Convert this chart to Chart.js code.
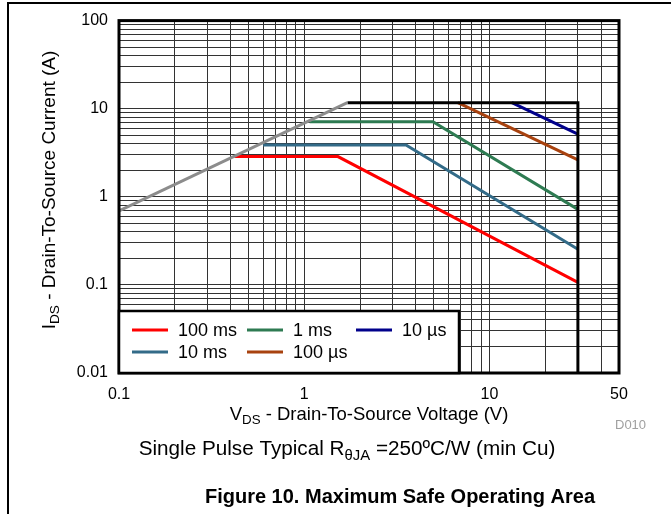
<!DOCTYPE html>
<html>
<head>
<meta charset="utf-8">
<script src="https://cdn.jsdelivr.net/npm/chart.js@4/dist/chart.umd.min.js"></script>
<style>
html, body { margin: 0; padding: 0; background: #fff; }
canvas { display: block; }
</style>
</head>
<body>
<canvas id="ch" width="671" height="514"></canvas>
<script>
// legend order (row by row)
const seriesLabels = ['100 ms', '1 ms', '10 µs', '10 ms', '100 µs'];
const seriesColors = ['#ff0000', '#2e7b52', '#00008b', '#336b88', '#a8420f'];

// V_DS (V) and I_DS (A) for each pulse width
const v100ms = [0.42, 1.52, 30];
const i100ms = [2.86, 2.86, 0.107];
const v1ms = [1.07, 4.95, 30];
const i1ms = [7.1, 7.1, 0.72];
const v10us = [13.2, 30];
const i10us = [11.7, 5.15];
const v10ms = [0.6, 3.54, 30];
const i10ms = [3.87, 3.87, 0.254];
const v100us = [6.75, 30];
const i100us = [11.7, 2.62];

// RDS(on) limit and outer envelope
const vLimit = [0.1, 1.71];
const iLimit = [0.69, 11.7];
const vEnvelope = [1.71, 30, 30];
const iEnvelope = [11.7, 11.7, 0.01];

const xTickLabels = ['0.1', '1', '10', '50'];
const yTickLabels = ['0.01', '0.1', '1', '10', '100'];

const seriesV = [v100ms, v1ms, v10us, v10ms, v100us];
const seriesI = [i100ms, i1ms, i10us, i10ms, i100us];

const FONT = '"Liberation Sans", Arial, sans-serif';
Chart.defaults.font.family = FONT;
Chart.defaults.font.size = 16;
Chart.defaults.color = '#000';

let pts = (xs, ys) => xs.map((x, k) => ({ x: x, y: ys[k] }));

// grid lines at 1..9 of every decade
let logTicks = (min, max) => {
    let out = [];
    for (let d = min; d < max * 1.0001; d = Number((d * 10).toPrecision(6))) {
        for (let m = 1; m < 10; m++) {
            let v = Number((m * d).toPrecision(6));
            if (v <= max * 1.0001) out.push(v);
        }
    }
    return out;
};

let labelFor = (list) => (value) => {
    let hit = list.find((l) => Math.abs(Number(l) - value) < Number(l) * 1e-6);
    return hit === undefined ? '' : hit;
};

let drawParts = (ctx, parts, cx, baseY, size, weight) => {
    let w = 0;
    parts.forEach((p) => {
        ctx.font = (weight || '') + ' ' + (p.sub ? size * 0.72 : size) + 'px ' + FONT;
        w += ctx.measureText(p.t).width;
    });
    let x = cx - w / 2;
    ctx.textAlign = 'left';
    ctx.textBaseline = 'alphabetic';
    parts.forEach((p) => {
        ctx.font = (weight || '') + ' ' + (p.sub ? size * 0.72 : size) + 'px ' + FONT;
        ctx.fillText(p.t, x, p.sub ? baseY + size * 0.22 : baseY);
        x += ctx.measureText(p.t).width;
    });
};

let datasets = [
    { label: '', data: pts(vLimit, iLimit), borderColor: '#8c8c8c' },
    { label: '', data: pts(vEnvelope, iEnvelope), borderColor: '#000000' }
];
seriesLabels.forEach((lab, k) => {
    datasets.push({ label: lab, data: pts(seriesV[k], seriesI[k]), borderColor: seriesColors[k] });
});
datasets.forEach((d) => {
    d.showLine = true;
    d.borderWidth = 3;
    d.pointRadius = 0;
    d.fill = false;
});

let decor = {
    id: 'decor',
    afterDatasetsDraw: (chart) => {
        let ctx = chart.ctx;
        let ca = chart.chartArea;
        ctx.save();

        // plot frame
        ctx.strokeStyle = '#000';
        ctx.lineWidth = 3;
        ctx.strokeRect(ca.left, ca.top, ca.right - ca.left, ca.bottom - ca.top);

        // legend box
        let bx = ca.left, bw = 340, bh = 62, by = ca.bottom - bh;
        ctx.fillStyle = '#fff';
        ctx.fillRect(bx, by, bw, bh);
        ctx.lineWidth = 2.5;
        ctx.strokeRect(bx, by, bw, bh);
        let colX = [13, 128, 237];
        let rowY = [19, 41];
        ctx.font = '18px ' + FONT;
        ctx.textBaseline = 'middle';
        ctx.textAlign = 'left';
        seriesLabels.forEach((lab, k) => {
            let x = bx + colX[k % 3];
            let y = by + rowY[Math.floor(k / 3)];
            ctx.strokeStyle = seriesColors[k];
            ctx.lineWidth = 3;
            ctx.beginPath();
            ctx.moveTo(x, y);
            ctx.lineTo(x + 36, y);
            ctx.stroke();
            ctx.fillStyle = '#000';
            ctx.fillText(lab, x + 46, y + 1);
        });

        // axis titles
        ctx.fillStyle = '#000';
        drawParts(ctx, [{ t: 'V' }, { t: 'DS', sub: true }, { t: ' - Drain-To-Source Voltage (V)' }], 369, 420, 18.5);
        ctx.save();
        ctx.translate(48, 190);
        ctx.rotate(-Math.PI / 2);
        drawParts(ctx, [{ t: 'I' }, { t: 'DS', sub: true }, { t: ' - Drain-To-Source Current (A)' }], 0, 6.8, 19);
        ctx.restore();

        // captions
        drawParts(ctx, [{ t: 'Single Pulse Typical R' }, { t: 'θJA', sub: true }, { t: ' =250ºC/W (min Cu)' }], 347, 455, 20.7);
        drawParts(ctx, [{ t: 'Figure 10. Maximum Safe Operating Area' }], 400, 503, 20, 'bold');
        ctx.fillStyle = '#a0a0a0';
        ctx.font = '13px ' + FONT;
        ctx.textAlign = 'left';
        ctx.fillText('D010', 615, 429);

        // page border
        ctx.strokeStyle = '#000';
        ctx.lineWidth = 2;
        ctx.beginPath();
        ctx.moveTo(8, 514);
        ctx.lineTo(8, 3);
        ctx.lineTo(671, 3);
        ctx.stroke();

        ctx.restore();
    }
};

let soa = new Chart('ch', {
    type: 'scatter',
    data: { datasets: datasets },
    options: {
        responsive: false,
        animation: false,
        layout: { padding: { left: 0, top: 18, right: 52, bottom: 111 } },
        plugins: { legend: { display: false }, tooltip: { enabled: false } },
        scales: {
            x: {
                type: 'logarithmic',
                min: 0.1,
                max: 50,
                afterBuildTicks: (s) => { s.ticks = logTicks(0.1, 50).map((v) => ({ value: v })); },
                afterFit: (s) => { s.height = 30; },
                grid: { color: '#333', lineWidth: 1, drawTicks: false },
                border: { display: false },
                ticks: { autoSkip: false, maxRotation: 0, padding: 12, callback: labelFor(xTickLabels) }
            },
            y: {
                type: 'logarithmic',
                min: 0.01,
                max: 100,
                afterBuildTicks: (s) => { s.ticks = logTicks(0.01, 100).map((v) => ({ value: v })); },
                afterFit: (s) => { s.width = 119; },
                grid: { color: '#333', lineWidth: 1, drawTicks: false },
                border: { display: false },
                ticks: { autoSkip: false, padding: 11, callback: labelFor(yTickLabels) }
            }
        }
    },
    plugins: [decor]
});
</script>
</body>
</html>
